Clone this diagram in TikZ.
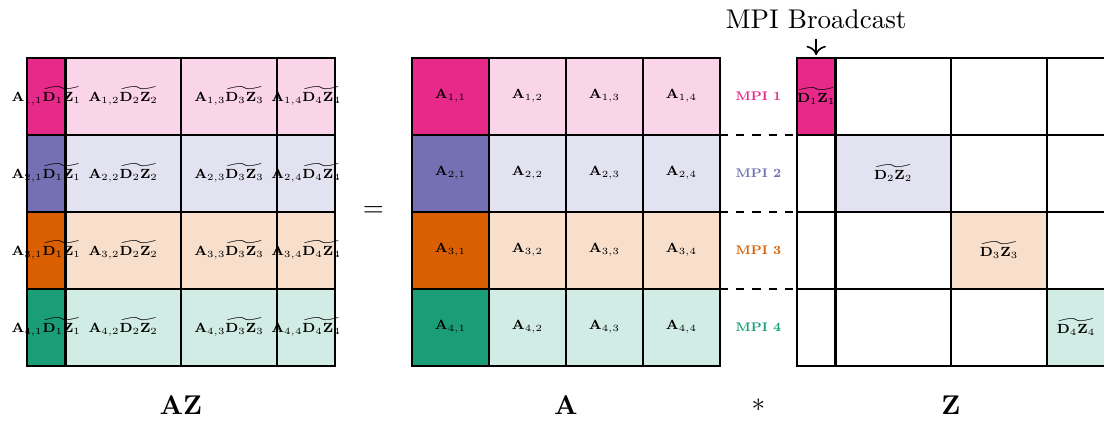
\documentclass[tikz,border=0pt]{standalone}
\usepackage{amsmath}
\usepackage{amssymb}
\usetikzlibrary{arrows.meta, positioning, calc}
\definecolor{pinkmpi}{HTML}{E7298A}
\definecolor{purplempi}{HTML}{7570B3}
\definecolor{orangempi}{HTML}{D95F02}
\definecolor{tealmpi}{HTML}{1B9E77}

\begin{document}
\begin{tikzpicture}[
  cell/.style={rectangle, draw, thick, anchor=north west, minimum height=1cm, inner sep=0pt, outer sep=0pt},
  entry/.style={inner sep=0pt, font=\scriptsize, scale=0.7, transform shape},
  mpi/.style={font=\scriptsize\bfseries, scale=0.66, transform shape},
  arr/.style={-{To[length=1.2mm]}, semithick}
]
\useasboundingbox (0,0) rectangle (14.338,-5.468);
\foreach \r/\col in {1/pinkmpi, 2/purplempi, 3/orangempi, 4/tealmpi} {
  \foreach \c/\x/\w/\t in {1/0.35/0.5/100, 2/0.85/1.5/20, 3/2.35/1.25/20, 4/3.6/0.75/20} {
    \node[cell, fill=\col!\t, minimum width=\w cm] (az-\r-\c) at (\x,{0.25-\r}) {};
    \node[cell, fill=\col!\t, minimum width=1cm] (a-\r-\c) at ({4.35+\c},{0.25-\r}) {};
    \ifnum\r=\c \edef\zfill{\col!\t}\else \edef\zfill{white}\fi
    \node[cell, fill=\zfill, minimum width=\w cm] (z-\r-\c) at ({\x+10},{0.25-\r}) {};
  }
  \node[mpi, text=\col] (mpi-\r) at ($(a-\r-4.east)!0.5!(z-\r-1.west)$) {MPI \r};
}
\foreach \r in {1,...,4} {
  \foreach \c in {1,...,4} {
    \node[entry] (azt-\r-\c) at (az-\r-\c) {$\mathbf{A}_{\r,\c}\widetilde{\mathbf{D}_\c\mathbf{Z}_\c}$};
    \node[entry] (at-\r-\c) at (a-\r-\c) {$\mathbf{A}_{\r,\c}$};
  }
  \node[entry] (zt-\r) at (z-\r-\r) {$\widetilde{\mathbf{D}_\r\mathbf{Z}_\r}$};
}
\foreach \r in {1,2,3}
  \draw[thick, dashed] (a-\r-4.south east) -- (z-\r-1.south west);
\node (eq) at ($(az-2-4.south east)!0.5!(a-2-1.south west)$) {$=$};
\node[below=0.27cm of az-4-2.south east] (azname) {$\mathbf{AZ}$};
\node[below=0.27cm of a-4-2.south east] (aname) {$\mathbf{A}$};
\node[below=0.27cm of z-4-2.south east] (zname) {$\mathbf{Z}$};
\node (times) at ($(aname)!0.5!(zname)$) {$*$};
\node[above=0.25cm of z-1-1.north] (bcast) {MPI Broadcast};
\draw[arr, shorten >=1pt] (bcast) -- (z-1-1.north);
\end{tikzpicture}
\end{document}
